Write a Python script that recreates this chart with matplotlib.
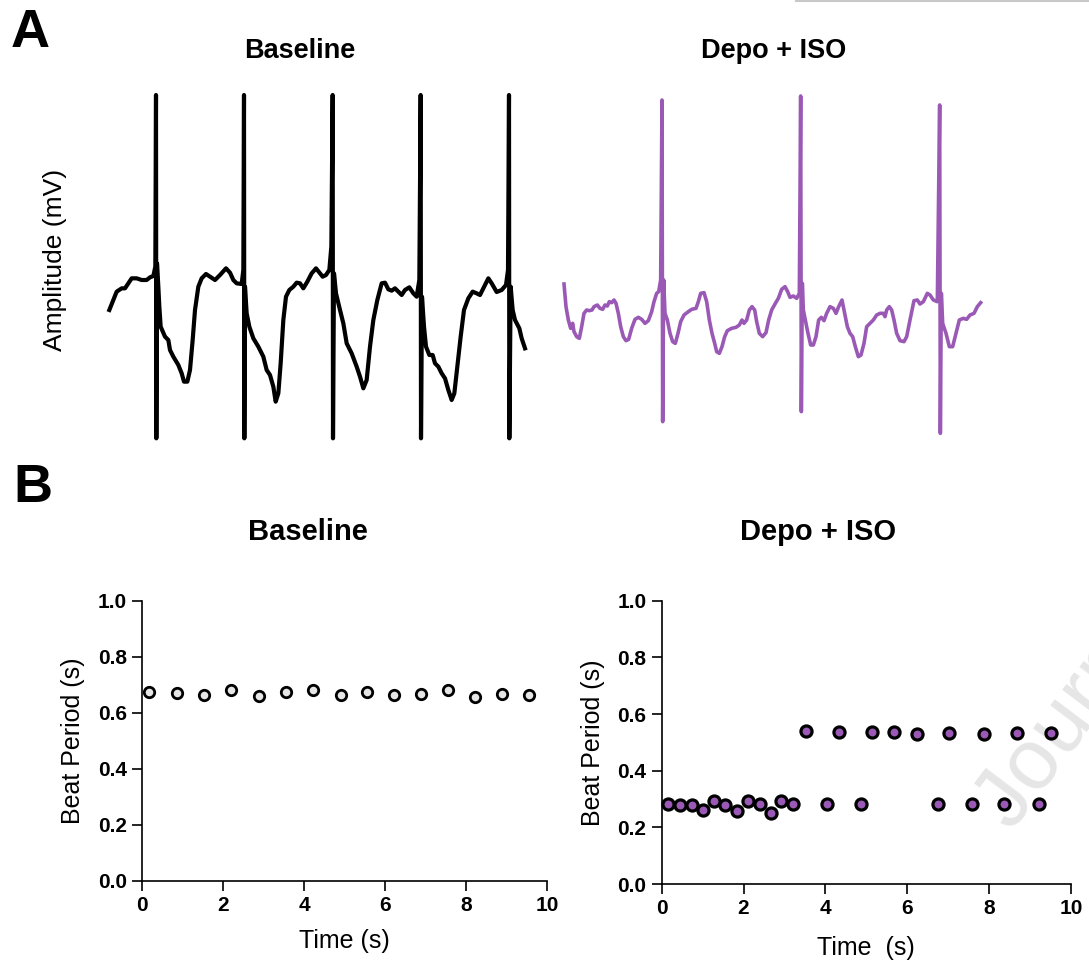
import numpy as np
import matplotlib.pyplot as plt
from matplotlib.lines import Line2D

plt.rcParams['font.family'] = ['Liberation Sans', 'DejaVu Sans']

PURPLE = '#9b59b6'

# ---- field potential traces (x: sample position, y: deflection, downward positive)
base_x = [28, 40, 50, 65, 75, 85, 95, 110, 125, 140, 150, 160, 166, 168, 169, 171, 175, 178, 182, 195,
          205, 210, 220, 235, 245, 252, 262, 270, 278, 285, 295, 305, 318, 330, 345, 360, 378, 390, 400,
          410, 425, 430, 432, 433, 435, 440, 448, 460, 475, 490, 500, 510, 520, 527, 535, 542, 550, 558,
          568, 580, 590, 600, 610, 622, 635, 648, 660, 668, 678, 688, 694, 698, 699, 702, 708, 720, 730,
          740, 755, 770, 780, 790, 800, 810, 820, 832, 845, 855, 865, 875, 885, 895, 905, 915, 928, 940,
          950, 958, 962, 963, 966, 972, 978, 988, 998, 1005, 1015, 1025, 1035, 1045, 1055, 1063, 1072,
          1082, 1092, 1105, 1118, 1130, 1140, 1150, 1165, 1175, 1190, 1205, 1218, 1224, 1227, 1228, 1232,
          1238, 1245, 1258, 1265, 1275]
base_y = [690, 660, 635, 625, 625, 610, 595, 595, 600, 600, 592, 588, 560, 45, 1075, 550, 620, 680, 740, 770,
          780, 810, 830, 855, 880, 905, 905, 870, 780, 690, 620, 595, 582, 590, 600, 585, 565, 578, 600,
          610, 612, 570, 45, 1075, 620, 700, 740, 775, 800, 830, 870, 885, 920, 965, 940, 850, 720, 650,
          630, 620, 608, 610, 625, 605, 580, 565, 580, 590, 585, 570, 500, 45, 1075, 580, 640, 690, 730,
          790, 820, 860, 890, 925, 900, 800, 720, 660, 610, 608, 628, 632, 625, 635, 645, 630, 622, 640,
          650, 600, 45, 1075, 650, 740, 800, 825, 825, 850, 860, 880, 895, 930, 960, 940, 860,
          770, 690, 655, 635, 640, 645, 625, 595, 610, 636, 630, 615, 570, 45, 1075, 620,
          690, 720, 745, 775, 805]

depo_x = [42, 48, 55, 62, 68, 72, 80, 88, 95, 102, 110, 118, 126, 132, 142, 150, 158, 165, 172, 178,
          185, 192, 198, 205, 212, 220, 228, 236, 245, 255, 265, 275, 285, 295, 305, 312, 320, 326, 332,
          336, 338, 341, 345, 352, 360, 368, 376, 384, 392, 402, 415, 425, 438, 445, 452, 462, 470, 478,
          486, 494, 500, 508, 516, 524, 532, 545, 558, 568, 576, 582, 590, 598, 606, 614, 620, 628, 638,
          648, 656, 665, 675, 685, 695, 705, 713, 720, 730, 740, 748, 752, 754, 757, 760, 766, 774, 782,
          790, 798, 806, 814, 822, 830, 840, 850, 858, 866, 876, 884, 892, 900, 908, 916, 925, 933, 942,
          950, 960, 970, 980, 990, 1000, 1005, 1010, 1018, 1025, 1032, 1040, 1050, 1062, 1070, 1080, 1092,
          1102, 1110, 1120, 1132, 1140, 1150, 1162, 1169, 1171, 1174, 1178, 1188, 1198, 1208, 1218, 1228,
          1240, 1250, 1260, 1272, 1282, 1292]
depo_y = [612, 680, 720, 745, 730, 755, 770, 775, 740, 700, 690, 692, 690, 680, 675, 685, 688, 675, 678, 665,
          668, 660, 670, 700, 740, 770, 782, 778, 745, 718, 712, 718, 730, 722, 695, 665, 640, 635, 600,
          60, 1025, 600, 700, 720, 760, 785, 790, 760, 725, 705, 695, 688, 685, 665, 640, 638, 665, 720,
          760, 790, 815, 820, 800, 770, 752, 745, 742, 735, 720, 730, 720, 690, 680, 690, 725, 760, 770,
          758, 720, 690, 672, 655, 628, 620, 635, 652, 648, 655, 640, 48, 995, 610, 690, 720, 760, 795,
          795, 770, 720, 712, 722, 700, 680, 685, 700, 680, 660, 700, 740, 760, 770, 800, 830, 825, 790,
          740, 730, 720, 705, 700, 700, 710, 690, 680, 690, 720, 760, 782, 785, 770, 720, 662,
          660, 672, 665, 640, 645, 660, 665, 75, 1060, 640, 730, 760, 800, 800, 760, 720,
          715, 718, 705, 700, 680, 668]

# ---- beat period over time
base_time = [0.17, 0.86, 1.53, 2.19, 2.88, 3.54, 4.21, 4.90, 5.55, 6.22, 6.88, 7.54, 8.22, 8.88, 9.56]
base_period = [0.675, 0.671, 0.665, 0.683, 0.660, 0.673, 0.680, 0.665, 0.673, 0.665, 0.668, 0.681,
               0.658, 0.668, 0.665]

depo_time = [0.16, 0.45, 0.73, 1.00, 1.27, 1.55, 1.83, 2.11, 2.39, 2.67, 2.92, 3.22, 3.53, 4.03,
             4.33, 4.87, 5.15, 5.67, 6.24, 6.74, 7.03, 7.58, 7.87, 8.37, 8.67, 9.21, 9.50]
depo_period = [0.281, 0.279, 0.279, 0.261, 0.293, 0.279, 0.258, 0.293, 0.281, 0.249, 0.294, 0.281,
               0.540, 0.281, 0.535, 0.281, 0.535, 0.536, 0.531, 0.281, 0.533, 0.281, 0.531, 0.281,
               0.533, 0.281, 0.533]

W, H = 1089, 966
fig = plt.figure(figsize=(W / 100, H / 100), dpi=100)


def px_axes(x0, y0, w, h):
    return fig.add_axes([x0 / W, 1 - (y0 + h) / H, w / W, h / H])


# ---------------- panel A: raw traces
ax = px_axes(100, 80, 440, 370)
ax.plot(base_x, base_y, color='black', lw=3.0, solid_joinstyle='round')
ax.set_xlim(0, 1320)
ax.set_ylim(1110, 0)
ax.axis('off')

ax = px_axes(550, 80, 450, 370)
ax.plot(depo_x, depo_y, color=PURPLE, lw=2.6, solid_joinstyle='round')
ax.set_xlim(0, 1350)
ax.set_ylim(1110, 0)
ax.axis('off')

fig.text(300 / W, 1 - 51 / H, 'Baseline', fontsize=19.5, fontweight='bold', ha='center', va='center')
fig.text(774 / W, 1 - 51 / H, 'Depo + ISO', fontsize=19.5, fontweight='bold', ha='center', va='center')
fig.text(55 / W, 1 - 260 / H, 'Amplitude (mV)', fontsize=19, rotation=90, ha='center', va='center')

fig.text(11 / W, 1 - 47 / H, 'A', fontsize=39, fontweight='bold', ha='left', va='baseline')
fig.text(13 / W, 1 - 502 / H, 'B', fontsize=39, fontweight='bold', ha='left', va='baseline')

# faint watermark behind the scatter plots
fig.text(1012 / W, 1 - 832 / H, 'Journal Pre-proof', fontsize=62, color='#e6e6e6', rotation=53,
         rotation_mode='anchor', ha='left', va='baseline', zorder=-1)

fig.add_artist(Line2D([796 / W, 1.0], [1 - 1 / H, 1 - 1 / H], color='#c8c8c8', lw=1.5))


# ---------------- panel B: beat period
def style_axes(ax):
    for s in ['top', 'right']:
        ax.spines[s].set_visible(False)
    for s in ['left', 'bottom']:
        ax.spines[s].set_linewidth(1.2)
    ax.set_xlim(0, 10)
    ax.set_ylim(0, 1.0)
    ax.set_xticks(np.arange(0, 11, 2))
    ax.set_yticks(np.arange(0, 1.01, 0.2))
    ax.set_yticklabels(['%.1f' % v for v in np.arange(0, 1.01, 0.2)])
    ax.tick_params(length=7, width=1.2, pad=4, labelsize=15)
    for lab in ax.get_xticklabels() + ax.get_yticklabels():
        lab.set_fontweight('bold')
    ax.patch.set_alpha(0)


ax1 = px_axes(142.3, 600.7, 405, 280.3)
ax1.plot(base_time, base_period, 'o', ms=7.5, mfc='#e6e6e6', mec='black', mew=2.0, clip_on=False)
style_axes(ax1)
ax1.set_ylabel('Beat Period (s)', fontsize=18)
ax1.yaxis.set_label_coords(-0.1415, 0.5)
ax1.set_xlabel('Time (s)', fontsize=18)
ax1.xaxis.set_label_coords(0.5, -0.173)

ax2 = px_axes(661.7, 600.7, 409.3, 283.3)
ax2.plot(depo_time, depo_period, 'o', ms=8, mfc=PURPLE, mec='black', mew=2.3, clip_on=False)
style_axes(ax2)
ax2.set_ylabel('Beat Period (s)', fontsize=18)
ax2.yaxis.set_label_coords(-0.1385, 0.5)
ax2.set_xlabel('Time  (s)', fontsize=18)
ax2.xaxis.set_label_coords(0.5, -0.184)

fig.text(308 / W, 1 - 532 / H, 'Baseline', fontsize=21, fontweight='bold', ha='center', va='center')
fig.text(818 / W, 1 - 532 / H, 'Depo + ISO', fontsize=21, fontweight='bold', ha='center', va='center')

fig.savefig('out.png', dpi=100)
